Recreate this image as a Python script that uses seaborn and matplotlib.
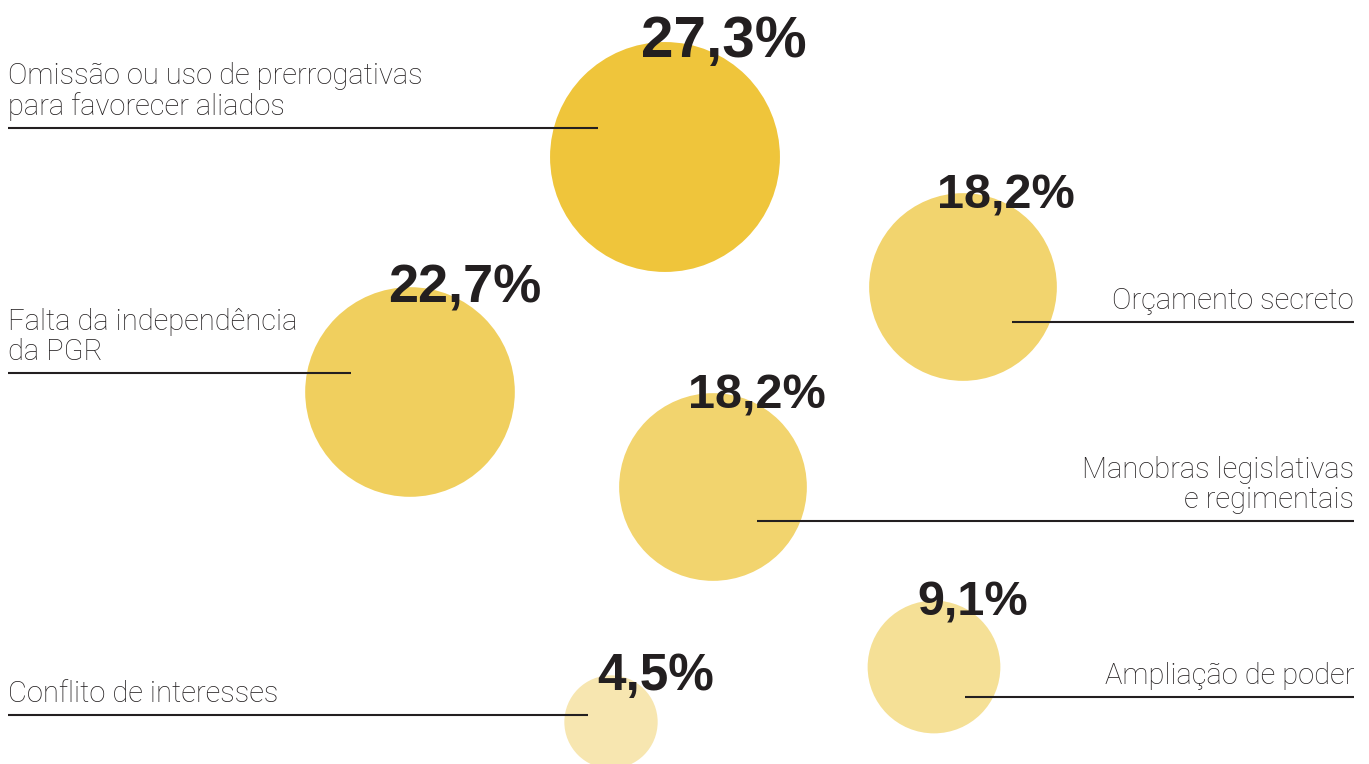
import matplotlib
matplotlib.use("Agg")
import matplotlib.pyplot as plt
import seaborn as sns
import numpy as np
import pandas as pd

# Share of cases by type of problem
categories = [
    "Omissão ou uso de prerrogativas\npara favorecer aliados",
    "Orçamento secreto",
    "Falta da independência\nda PGR",
    "Manobras legislativas\ne regimentais",
    "Ampliação de poder",
    "Conflito de interesses",
]
values = [27.3, 18.2, 22.7, 18.2, 9.1, 4.5]
value_labels = ["27,3%", "18,2%", "22,7%", "18,2%", "9,1%", "4,5%"]

# Layout (pixel space): bubble centres, label side and leader-line geometry
centres_x = [665, 963, 410, 713, 934, 611]
centres_y = [157, 287, 392, 487, 667, 722]
pct_x = [641, 937, 388, 688, 917, 597]
label_side = ["left", "right", "left", "right", "right", "left"]
leader_y = [128, 322, 373, 521, 697, 715]
leader_end = [598, 1012, 351, 757, 965, 588]
pct_sizes = [42, 35, 39, 35, 35, 37]
colors = ["#EFC53B", "#F2D46E", "#F0CF5E", "#F2D46E", "#F5E096", "#F7E6B0"]

W, H, DPI = 1369, 764, 100
PX_PER_SQRT = 22.0          # bubble radius in px per sqrt(percentage)
INK = "#231F20"

sns.set_theme(style="white")
plt.rcParams["font.family"] = ["Roboto", "DejaVu Sans"]

df = pd.DataFrame({
    "cat": categories,
    "value": values,
    "x": centres_x,
    "y": centres_y,
})

fig = plt.figure(figsize=(W / DPI, H / DPI), dpi=DPI)
ax = fig.add_axes([0, 0, 1, 1])
ax.set_xlim(0, W)
ax.set_ylim(H, 0)
ax.axis("off")

# marker area (pt^2) proportional to value: diameter = 2 * k * sqrt(v) px
area_per_unit = (2 * PX_PER_SQRT * 72 / DPI) ** 2
sns.scatterplot(
    data=df, x="x", y="y", hue="cat", size="value",
    sizes=(area_per_unit * min(values), area_per_unit * max(values)),
    size_norm=(min(values), max(values)),
    palette=colors, linewidth=0, legend=False, ax=ax, clip_on=False, zorder=1,
)

for i, cat in enumerate(categories):
    r = PX_PER_SQRT * np.sqrt(values[i])
    cy = centres_y[i]
    ly = leader_y[i]
    last_base = ly - 13
    if label_side[i] == "left":
        ax.plot([8, leader_end[i]], [ly, ly], color=INK, lw=1.5,
                solid_capstyle="butt", zorder=3)
        ax.text(8, last_base, cat, ha="left", va="baseline", fontsize=21,
                fontweight="light", color=INK, linespacing=1.08, zorder=4)
    else:
        ax.plot([leader_end[i], 1354], [ly, ly], color=INK, lw=1.5,
                solid_capstyle="butt", zorder=3)
        ax.text(1354, last_base, cat, ha="right", va="baseline", fontsize=21,
                fontweight="light", color=INK, linespacing=1.08,
                multialignment="right", zorder=4)
    ax.text(pct_x[i], cy - r + 15, value_labels[i], ha="left", va="baseline",
            fontsize=pct_sizes[i], fontweight="bold", color=INK,
            family=["Liberation Sans", "DejaVu Sans"], zorder=5)

fig.savefig("out.png", dpi=DPI, facecolor="white")
